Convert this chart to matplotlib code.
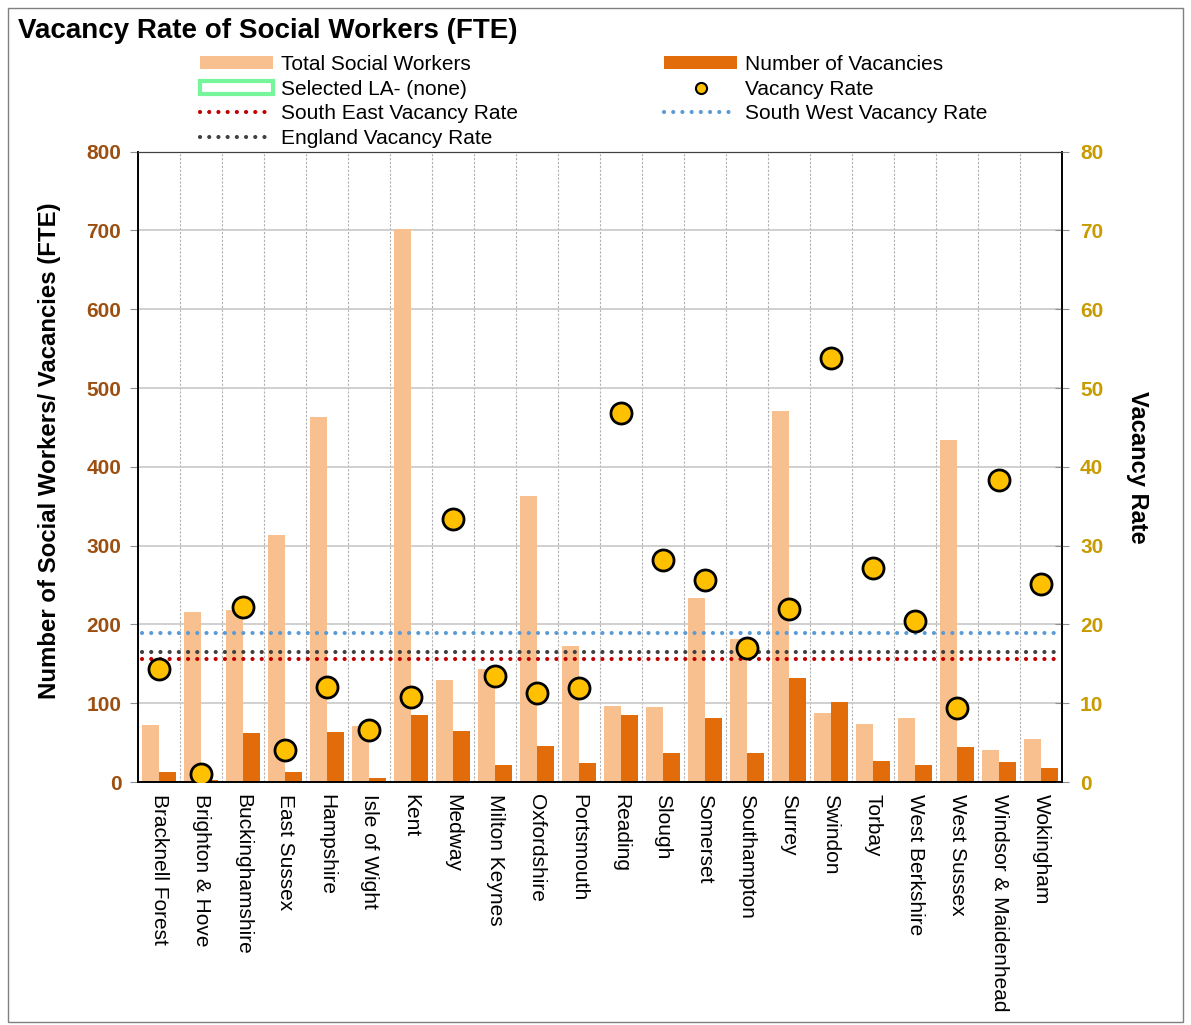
import numpy as np
import matplotlib
matplotlib.use("Agg")
import matplotlib.pyplot as plt
from matplotlib.patches import Patch, Rectangle
from matplotlib.lines import Line2D

plt.rcParams['font.family'] = ['Liberation Sans', 'DejaVu Sans']

# ---- data ----
authorities = ['Bracknell Forest', 'Brighton & Hove', 'Buckinghamshire', 'East Sussex',
               'Hampshire', 'Isle of Wight', 'Kent', 'Medway', 'Milton Keynes',
               'Oxfordshire', 'Portsmouth', 'Reading', 'Slough', 'Somerset',
               'Southampton', 'Surrey', 'Swindon', 'Torbay', 'West Berkshire',
               'West Sussex', 'Windsor & Maidenhead', 'Wokingham']
total_workers = [72, 216, 218, 314, 463, 71, 702, 130, 143, 363, 172, 97,
                 95, 233, 181, 471, 88, 73, 81, 434, 41, 54]
vacancies = [13, 2.5, 62, 13, 63, 5, 85, 65, 22, 46, 24, 85,
             37, 81, 37, 132, 102, 27, 21, 45, 25, 18]
vacancy_rate = [14.4, 1.0, 22.2, 4.1, 12.0, 6.6, 10.8, 33.4, 13.5, 11.3, 11.9, 46.8,
                28.2, 25.7, 17.0, 22.0, 53.8, 27.1, 20.4, 9.4, 38.3, 25.1]
south_east_rate = 15.6
south_west_rate = 18.9
england_rate = 16.5

LIGHT = '#F9C08F'
DARK = '#E36C0A'
DOT = '#FFC000'
LEFT_TXT = '#9C4F10'
RIGHT_TXT = '#C89B00'

fig = plt.figure(figsize=(11.91, 10.25), dpi=100)
ax = fig.add_axes([138 / 1191, 1 - 782 / 1025, (1062 - 138) / 1191, (782 - 151.7) / 1025])
ax2 = ax.twinx()

x = np.arange(len(authorities))
w = 0.415
ax.bar(x - w / 2, total_workers, width=w, color=LIGHT, zorder=2)
ax.bar(x + w / 2, vacancies, width=w, color=DARK, zorder=2)

ax.set_xlim(-0.5, len(authorities) - 0.5)
ax.set_ylim(0, 800)
ax.set_yticks(np.arange(0, 801, 100))
ax.set_xticks(x)
ax.set_xticklabels(authorities, rotation=270, fontsize=15, va='top', ha='center')
ax.set_xticks(np.arange(-0.5, len(authorities)), minor=True)
ax.tick_params(axis='x', which='both', length=0, pad=9)
ax.grid(axis='x', which='minor', linestyle=(0, (2, 1.5)), color='#B0B0B0', lw=0.8)
ax.grid(axis='y', which='major', color='#C8C8C8', lw=1.2)
ax.set_axisbelow(True)
ax.tick_params(axis='y', direction='out', length=6, color='#909090', labelsize=15,
               labelcolor=LEFT_TXT, pad=6)
for lab in ax.get_yticklabels():
    lab.set_fontweight('bold')
ax.set_ylabel('Number of Social Workers/ Vacancies (FTE)', fontsize=17.3,
              fontweight='bold', labelpad=18)
ax.yaxis.label.set_y(0.525)

# right axis: rates
ls_dot = (0, (0.01, 2.2))
ax2.axhline(south_west_rate, color='#5B9BD5', lw=3, linestyle=ls_dot,
            dash_capstyle='round', xmin=0.004, xmax=0.997)
ax2.axhline(england_rate, color='#404040', lw=3, linestyle=ls_dot,
            dash_capstyle='round', xmin=0.004, xmax=0.997)
ax2.axhline(south_east_rate, color='#C00000', lw=3, linestyle=ls_dot,
            dash_capstyle='round', xmin=0.004, xmax=0.997)
ax2.scatter(x, vacancy_rate, s=230, color=DOT, edgecolor='black', linewidth=2, zorder=5)
ax2.set_ylim(0, 80)
ax2.set_yticks(np.arange(0, 81, 10))
ax2.tick_params(axis='y', direction='inout', length=10, color='#909090', labelsize=15,
                labelcolor=RIGHT_TXT, pad=8)
for lab in ax2.get_yticklabels():
    lab.set_fontweight('bold')
ax2.set_ylabel('Vacancy Rate', fontsize=17, fontweight='bold', rotation=270,
               labelpad=33)

for a in (ax, ax2):
    a.spines['left'].set_color('black')
    a.spines['bottom'].set_color('black')
    a.spines['right'].set_color('black')
    a.spines['top'].set_color('#404040')
    a.spines['left'].set_linewidth(1.2)
    a.spines['right'].set_linewidth(1.2)
    a.spines['bottom'].set_linewidth(1.2)

# title and frame
fig.text(18 / 1191, 1 - 31 / 1025, 'Vacancy Rate of Social Workers (FTE)',
         fontsize=20, fontweight='bold', va='center', ha='left')
fig.patches.append(Rectangle((8 / 1191, 3 / 1025), 1175 / 1191, 1014 / 1025,
                             transform=fig.transFigure, fill=False,
                             edgecolor='#808080', lw=1))

handles = [
    Patch(facecolor=LIGHT, label='Total Social Workers'),
    Patch(facecolor='white', edgecolor='#77F59A', lw=3, label='Selected LA- (none)'),
    Line2D([], [], color='#C00000', lw=3, linestyle=ls_dot, dash_capstyle='round',
           label='South East Vacancy Rate'),
    Line2D([], [], color='#404040', lw=3, linestyle=ls_dot, dash_capstyle='round',
           label='England Vacancy Rate'),
    Patch(facecolor=DARK, label='Number of Vacancies'),
    Line2D([], [], linestyle='none', marker='o', markersize=8, markerfacecolor=DOT,
           markeredgecolor='black', markeredgewidth=1.5, label='Vacancy Rate'),
    Line2D([], [], color='#5B9BD5', lw=3, linestyle=ls_dot, dash_capstyle='round',
           label='South West Vacancy Rate'),
]
fig.legend(handles=handles, ncol=2, loc='upper left',
           bbox_to_anchor=(200 / 1191, 1 - 55 / 1025), frameon=False, fontsize=15,
           handlelength=3.5, handleheight=0.6, handletextpad=0.4, labelspacing=0.27,
           columnspacing=7.0, borderpad=0, borderaxespad=0)

fig.savefig('out.png', dpi=100)
